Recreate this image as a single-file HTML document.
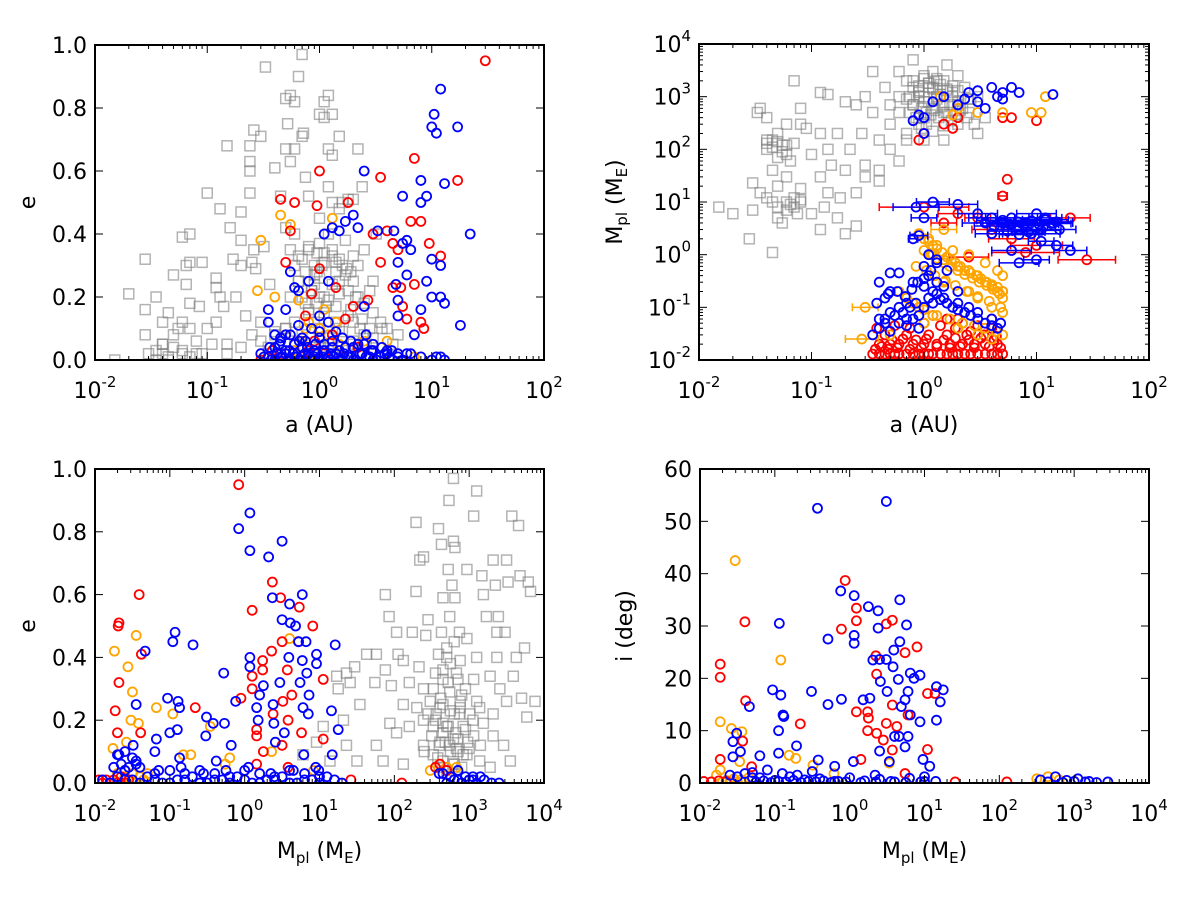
<!DOCTYPE html>
<html><head><meta charset="utf-8">
<style>
html,body{margin:0;padding:0;background:#fff;}
svg{display:block;font-family:"DejaVu Sans","Liberation Sans",sans-serif;}
</style></head>
<body>
<svg id="fig" width="1200" height="902" viewBox="0 0 1200 902" xmlns="http://www.w3.org/2000/svg"></svg>
<script>
// ---------------- DATA ----------------
// Top-left: semi-major axis a (AU) vs eccentricity e
const tlGrayA=[0.015,0.02,0.028,0.028,0.028,0.035,0.04,0.04,0.04,0.045,0.05,0.05,0.055,0.06,0.06,0.065,0.065,0.07,0.07,0.07,0.08,0.085,0.09,0.1,0.1,0.11,0.12,0.12,0.13,0.13,0.14,0.15,0.15,0.16,0.17,0.18,0.2,0.2,0.2,0.22,0.24,0.24,0.24,0.24,0.26,0.25,0.26,0.27,0.3,0.32,0.33,0.36,0.4,0.5,0.55,0.52,0.5,0.55,0.6,0.6,0.65,0.7,0.7,0.72,0.75,0.8,0.45,0.5,0.55,0.6,0.6,0.65,0.7,0.75,0.8,0.85,0.9,0.95,1.0,1.0,1.0,1.1,1.1,1.2,1.2,1.3,1.3,1.5,1.2,1.3,1.5,1.6,1.8,2.0,2.4,2.2,1.2,1.3,1.4,1.5,1.6,1.8,2.0,2.2,2.5,3,3.5,4,4.5,5,1,1.1,0.9,1.5,2,2.5,1.2,0.8,2.2,2.5,3,1.7,3.2,0.4,0.3,0.35,0.5,0.06,0.09,0.15,0.12,0.07,0.045,0.035,0.9,1.1,1.4,0.7,0.8,1.9,2.8,3.6,0.6,1.0,1.3];
const tlGrayE=[0.0,0.21,0.32,0.16,0.08,0.2,0.02,0.05,0.12,0.15,0.27,0.08,0.1,0.39,0.12,0.3,0.24,0.31,0.4,0.1,0.06,0.17,0.31,0.53,0.1,0.05,0.26,0.23,0.48,0.2,0.17,0.68,0.05,0.42,0.32,0.2,0.47,0.38,0.3,0.14,0.68,0.63,0.6,0.53,0.73,0.31,0.35,0.29,0.71,0.36,0.93,0.24,0.61,0.83,0.84,0.75,0.67,0.63,0.82,0.67,0.9,0.97,0.71,0.72,0.58,0.52,0.52,0.42,0.35,0.3,0.4,0.25,0.32,0.28,0.35,0.22,0.3,0.18,0.37,0.45,0.78,0.82,0.77,0.84,0.67,0.78,0.65,0.71,0.55,0.5,0.48,0.5,0.51,0.51,0.55,0.67,0.4,0.33,0.28,0.25,0.3,0.22,0.25,0.2,0.18,0.15,0.12,0.1,0.05,0.08,0.2,0.15,0.12,0.1,0.12,0.08,0.05,0.02,0.3,0.35,0.25,0.38,0.4,0.08,0.12,0.02,0.1,0.02,0.02,0.02,0.12,0.18,0.0,0.0,0.27,0.34,0.31,0.2,0.16,0.28,0.22,0.1,0.06,0.07,0.03];
const tlGrayDenseA=[0.5,0.6,0.7,0.8,0.9,1.0,1.1,1.2,1.4,1.6,1.8,2.0,2.3,2.6,3.0,0.55,0.65,0.75,0.85,0.95,1.05,1.15,1.3,1.5,1.7,1.9,2.1,2.4,2.8,0.6,0.7,0.8,0.9,1.0,1.1,1.25,1.4,1.6,1.8,2.0,2.2,0.65,0.8,0.95,1.1,1.3,1.5,1.75,2.0,0.9,1.0,1.2,1.4,0.3,0.35,0.4,0.45,0.2,0.25,0.03,0.035,0.04,0.045,0.05,0.06,0.07,0.08];
const tlGrayDenseE=[0.1,0.12,0.08,0.15,0.05,0.1,0.2,0.07,0.12,0.09,0.14,0.06,0.1,0.05,0.07,0.2,0.25,0.18,0.22,0.28,0.3,0.17,0.24,0.21,0.27,0.16,0.2,0.13,0.1,0.02,0.03,0.01,0.04,0.02,0.03,0.05,0.02,0.04,0.03,0.05,0.02,0.33,0.36,0.34,0.31,0.35,0.32,0.29,0.33,0.24,0.26,0.19,0.17,0.06,0.04,0.09,0.02,0.04,0.08,0.02,0.03,0.05,0.01,0.04,0.03,0.01,0.02];
const tlBlueA=[12,10.5,10,11,17,8,13,9,8,22,2.5,5.5,2,1.7,1.5,1.3,2.2,3.3,4.6,5.5,6.5,6,10,12,5,4.8,6,9,10,12,13,8,18,5,5,7,1.1,1.2,2.5,0.55,0.6,0.65,0.8,0.35,0.35,0.5,1.0,0.4,0.45,2.5,3,5,8,12,0.3,0.35,0.4,0.45,0.5,0.55,0.6,0.7,0.8,0.9,1.0,1.2,1.4,1.6,1.8,2,2.3,2.6,3,3.5,4,4.5,5,6,0.4,0.5,0.6,0.7,0.9,1.1,1.3,1.5,2,3,4,0.45,0.55,0.75,1.0,1.4,1.9,0.65,0.85,1.2];
const tlBlueE=[0.86,0.78,0.74,0.72,0.74,0.57,0.56,0.52,0.5,0.4,0.6,0.52,0.46,0.44,0.41,0.42,0.42,0.41,0.41,0.37,0.35,0.38,0.32,0.3,0.31,0.24,0.27,0.25,0.2,0.2,0.18,0.16,0.11,0.19,0.14,0.08,0.4,0.25,0.17,0.28,0.23,0.22,0.25,0.16,0.12,0.16,0.14,0.08,0.06,0.05,0.03,0.02,0.01,0.01,0.02,0.01,0.0,0.01,0.02,0.0,0.01,0.0,0.02,0.01,0.0,0.01,0.02,0.0,0.01,0.0,0.02,0.01,0.0,0.01,0.02,0.0,0.01,0.02,0.04,0.03,0.05,0.04,0.03,0.05,0.04,0.03,0.04,0.05,0.03,0.07,0.08,0.06,0.07,0.09,0.06,0.11,0.1,0.12];
const tlBlueDenseA=[0.32,0.37,0.42,0.47,0.52,0.58,0.63,0.68,0.74,0.82,0.88,0.96,1.05,1.15,1.25,1.35,1.5,1.65,1.9,2.1,2.4,2.8,3.2,3.8,4.2,5.5,6.5,0.36,0.44,0.54,0.66,0.78,0.92,1.1,1.3,1.7,2.2,2.9,3.6,4.4,0.5,0.7,1.0,1.6,2.6,10,11,13];
const tlBlueDenseE=[0.01,0.0,0.02,0.01,0.0,0.02,0.01,0.0,0.02,0.01,0.0,0.02,0.01,0.0,0.02,0.01,0.0,0.02,0.01,0.0,0.02,0.01,0.0,0.02,0.01,0.0,0.02,0.04,0.05,0.03,0.06,0.04,0.05,0.03,0.06,0.04,0.05,0.03,0.04,0.03,0.08,0.07,0.09,0.07,0.08,0.0,0.01,0.0];
const tlRedA=[30,1,1.8,3.5,7,17,0.45,0.6,0.95,0.55,0.5,1.0,0.85,1.4,3,4,4.5,3.5,5,6.5,8,9.5,4.5,5.3,5.5,6,8,8.5,2,1.7,0.75,2.7,12,7,0.38,0.6,0.9,1.3,2.2,0.5,0.7,0.3,0.42,0.8,1.1,1.6];
const tlRedE=[0.95,0.6,0.5,0.58,0.64,0.57,0.51,0.5,0.49,0.41,0.31,0.29,0.21,0.23,0.4,0.41,0.37,0.31,0.35,0.44,0.44,0.37,0.23,0.23,0.17,0.13,0.12,0.1,0.17,0.13,0.14,0.19,0.33,0.24,0.03,0.05,0.06,0.08,0.04,0.02,0.01,0.0,0.0,0.03,0.02,0.01];
const tlOrangeA=[0.3,0.28,0.45,0.55,1.3,1.0,0.7,2,5,7,0.4,0.5,0.8,1.2,1.5,3,4,0.6,0.9,0.65,1.1,1.4,2.5,0.75];
const tlOrangeE=[0.38,0.22,0.46,0.43,0.45,0.1,0.06,0.04,0.02,0.01,0.2,0.08,0.12,0.08,0.05,0.03,0.06,0.03,0.02,0.19,0.16,0.12,0.06,0.1];

// Top-right: a (AU) vs planet mass (Earth masses), with horizontal error factor
const trGrayA=[0.015,0.02,0.028,0.03,0.03,0.033,0.035,0.035,0.04,0.04,0.04,0.04,0.045,0.045,0.05,0.05,0.05,0.05,0.055,0.055,0.06,0.06,0.06,0.06,0.07,0.07,0.07,0.08,0.08,0.08,0.09,0.1,0.1,0.12,0.12,0.12,0.12,0.14,0.14,0.14,0.15,0.17,0.18,0.2,0.2,0.2,0.22,0.25,0.25,0.28,0.3,0.3,0.35,0.35,0.4,0.4,0.45,0.5,0.5,0.6,0.6,0.6,0.7,0.7,0.8,0.8,0.8,0.9,0.9,1,1,1,1.1,1.2,1.2,1.3,1.5,1.5,1.6,1.8,2,2,2,2.3,2.5,3,3,0.5,0.6,0.7,1,1.5,0.4,0.25,0.3,0.13,0.17,0.045,0.065,0.08,1.1,1.3,0.9,2.6,3.5,0.75,1.7];
const trGrayM=[8,6,2,7,23,500,600,15,400,130,100,12,1.1,150,200,70,20,5,120,4,300,80,10,30,2000,130,8,600,300,10,250,80,6,1200,200,30,3,1100,100,15,50,200,12,800,40,2.5,100,700,3.5,200,1000,30,3000,500,150,25,1500,700,300,3000,1000,500,2000,200,5000,1500,700,1000,300,2500,800,400,1500,3000,600,1000,2000,500,4000,1200,2500,700,300,1500,500,1000,200,100,60,150,150,150,40,15,50,8,5,40,60,18,1800,2200,1300,900,400,1000,700];
const trGrayDenseA=[0.7,0.8,0.9,1.0,1.1,1.2,1.3,1.4,1.5,1.6,1.8,2.0,2.2,2.5,0.75,0.85,0.95,1.05,1.15,1.25,1.35,1.45,1.6,1.75,1.9,2.1,2.4,2.8,0.8,0.9,1.0,1.1,1.2,1.3,1.4,1.6,1.8,2.0,0.95,1.05,1.2,1.5,0.04,0.045,0.05,0.055,0.06,0.05,0.045,0.06,0.065,0.07,0.075,0.08];
const trGrayDenseM=[900,700,1200,1000,800,1400,900,1100,700,1300,1000,800,600,900,500,400,600,500,450,550,400,650,500,350,450,550,400,300,2000,1600,2200,1800,1500,2000,1700,1400,1600,1300,250,300,220,280,150,110,140,90,120,8,10,7,9,12,6,11];
const trBlueA=[1,1.2,1.5,2,2.3,2.5,3,3,4,5,5,6,7,14,0.8,0.9,3.5,4.5,1,0.85,1.2,2,1,0.9,0.8,3,4,5,6,8,10,12,14,16,11,15,20,7,9,6,7,10,0.5,0.6,0.5,0.45,0.8,1,1.2,1.5,2,2.5,3,4,4.8,0.45,0.5,0.6,0.7,0.4,1.1,1.3,1.5,2,0.7,0.9,0.35,0.4,1,1.1,1.3,1.6];
const trBlueM=[400,800,1000,700,900,1200,1300,800,1500,1200,900,1500,1200,1100,350,450,600,1000,200,8,10,9,5,2.3,2,6,5,4,5,4,6,5,4,3,1.8,1.5,1.2,3,2.5,1.2,0.7,0.8,0.45,0.45,0.2,0.15,0.3,0.25,0.2,0.15,0.12,0.1,0.08,0.06,0.05,0.05,0.08,0.1,0.12,0.3,0.4,0.3,0.25,0.2,0.06,0.04,0.03,0.06,0.6,1,0.8,0.5];
const trBlueErr=[1,1,1,1,1,1,1,1,1,1,1,1,1,1,1,1,1,1,1,1.6,1.4,1.5,1.3,1.2,1.1,1.5,1.6,1.5,1.7,1.8,1.5,1.4,1.5,1.4,1.3,1.4,1.4,1.6,1.8,1.5,1.5,1.3,1,1,1,1,1,1,1,1,1,1,1,1,1,1,1,1,1,1,1,1,1,1,1,1,1,1,1,1,1,1];
const trBlueDenseA=[3.5,4.2,5,5.8,6.8,7.8,9,10.5,12,13.5,15,4,5.5,7,8.5,11,0.4,0.45,0.5,0.55,0.6,0.65,0.7,0.75,0.8,0.85,0.9,1.0,1.1,1.2,1.3,1.4,1.6,1.8,2.0,2.3,2.6,3.0,3.5,4.0,4.5,0.38,0.48,0.58,0.68,0.78,0.88,1.0,1.15,1.3];
const trBlueDenseM=[4,3.5,4.5,3.8,4.2,3.6,4.4,3.8,4.6,3.9,4.2,2.5,2.8,2.4,2.7,2.9,0.04,0.06,0.035,0.07,0.05,0.08,0.045,0.1,0.06,0.12,0.07,0.1,0.15,0.12,0.18,0.14,0.12,0.1,0.09,0.08,0.07,0.06,0.05,0.045,0.04,0.12,0.18,0.2,0.16,0.22,0.3,0.35,0.5,0.7];
const trBlueDenseErr=[1.6,1.5,1.7,1.6,1.5,1.6,1.7,1.5,1.6,1.5,1.4,1.4,1.5,1.5,1.4,1.5,1,1,1,1,1,1,1,1,1,1,1,1,1,1,1,1,1,1,1,1,1,1,1,1,1,1,1,1,1,1,1,1,1,1];
const trRedA=[0.9,1,1.5,1.8,5,6,10,2,5.5,5,1,2,3,20,1.5,4,6,10,8,28,2.5,1,2,4,5,0.35,0.4,0.45,0.5,0.55,0.6,0.7,0.8,0.9,1,1.1,1.2,1.4,1.6,1.8,2,2.3,2.6,3,3.5,4,4.5,5,0.4,0.5,0.6,0.8,1,1.3,1.7,2.2,2.8,3.5,4.5,0.45,0.7,1.1,1.6,2.4];
const trRedM=[150,200,300,250,400,400,350,400,27,13,8,6,5,5,4,3,2,1.5,1.1,0.8,0.9,0.1,0.06,0.04,0.2,0.013,0.013,0.013,0.013,0.013,0.013,0.013,0.013,0.013,0.013,0.013,0.013,0.013,0.013,0.013,0.013,0.013,0.013,0.013,0.013,0.013,0.013,0.013,0.02,0.02,0.02,0.02,0.02,0.02,0.02,0.02,0.02,0.02,0.02,0.03,0.03,0.03,0.03,0.03];
const trRedErr=[1,1,1,1,1,1,1,1,1,1.1,2.5,1.5,1.3,1.5,1.3,1.5,1.6,1.7,2,1.8,1.5,1,1,1,1,1,1,1,1,1,1,1,1,1,1,1,1,1,1,1,1,1,1,1,1,1,1,1,1,1,1,1,1,1,1,1,1,1,1,1,1,1,1,1];
const trRedDenseA=[0.37,0.42,0.48,0.52,0.58,0.65,0.75,0.85,0.95,1.05,1.3,1.5,1.7,1.9,2.1,2.5,2.8,3.2,3.8,4.2,4.8,0.38,0.55,0.75,1.0,1.4,1.9,2.6,3.4,4.4,1.2,1.6,2.2,3,4];
const trRedDenseM=[0.016,0.018,0.016,0.024,0.017,0.025,0.016,0.024,0.017,0.025,0.018,0.024,0.017,0.026,0.018,0.024,0.017,0.026,0.018,0.024,0.017,0.04,0.045,0.04,0.05,0.045,0.04,0.035,0.03,0.028,0.07,0.06,0.05,0.045,0.06];
const trOrangeA=[1.4,2,3,5,9,11,12,1.8,1.2,1.5,2,2.5,3,3.5,4,4.5,5,1.3,1.8,2.5,3.5,4.5,5,1.1,1.5,2.5,3,4,5,1.5,2,0.3,0.28,0.5,1,2,3,4,5,0.9,1.2];
const trOrangeM=[1000,600,500,500,500,500,1000,450,1,0.8,0.6,0.5,0.4,0.3,0.25,0.2,0.15,1.5,1.2,1,0.7,0.5,0.4,2,3,0.2,0.15,0.1,0.08,0.3,0.2,0.1,0.025,0.03,0.05,0.04,0.03,0.025,0.03,0.1,0.07];
const trOrangeErr=[1,1,1,1,1,1,1,1,1,1,1,1,1,1,1,1,1,1,1,1,1,1,1,1,1.3,1,1,1,1,1,1,1.3,1.4,1,1,1,1,1,1,1,1];
const trOrangeDenseA=[0.9,1.0,1.1,1.2,1.3,1.45,1.6,1.75,1.9,2.1,2.3,2.6,2.9,3.2,3.6,4.0,4.5,5.0,1.0,1.15,1.3,1.5,1.7,2.0,2.3,2.7,3.1,3.6,4.1,4.7,0.85,1.05,1.25,1.55,1.9,2.4,3.0,3.8,4.8,0.6,0.7,0.8,1.0,1.3,1.7,2.2,2.8,3.5,4.4];
const trOrangeDenseM=[2.5,2,1.8,1.5,1.3,1.1,0.9,0.8,0.7,0.6,0.5,0.45,0.4,0.35,0.3,0.27,0.24,0.2,1.2,1,0.85,0.7,0.6,0.5,0.42,0.36,0.3,0.26,0.22,0.18,0.6,0.5,0.4,0.32,0.26,0.2,0.16,0.13,0.1,0.2,0.15,0.12,0.09,0.07,0.06,0.05,0.045,0.04,0.035];

// Bottom-left: log10 planet mass vs eccentricity
const blGrayLogM=[2.79,3.1,2.73,3.06,3.57,3.66,2.29,2.59,2.79,2.63,2.81,2.39,2.34,2.72,2.97,3.17,3.32,3.5,3.68,3.79,3.82,3.52,3.35,2.77,2.29,1.88,2.65,2.81,3.19,1.93,2.45,2.74,3.23,3.39,2.03,2.24,2.42,2.63,2.87,3.37,3.48,2.97,1.63,1.76,2.05,2.12,2.33,2.59,2.7,2.88,3.1,3.37,3.63,3.74,1.47,1.36,1.23,1.25,1.41,1.54,1.74,1.88,1.96,2.2,2.39,2.65,2.83,3.06,3.28,3.59,3.41,3.7,3.88,3.77,3.5,2.12,2.3,2.48,2.61,2.74,2.88,3.01,3.14,3.32,1.94,2.03,1.76,1.85,2.2,2.39,2.52,2.65,2.79,2.92,3.06,3.19,3.32,3.46,3.55,2.39,2.52,2.65,2.83,2.97,3.14,2.61,2.74,2.12,3.28,1.32,1.05,0.96,0.78,1.14,1.36,1.5,2.72,2.87,2.56];
const blGrayE=[0.97,0.93,0.9,0.85,0.85,0.82,0.83,0.81,0.77,0.76,0.75,0.72,0.71,0.68,0.68,0.66,0.71,0.71,0.66,0.64,0.61,0.64,0.63,0.63,0.61,0.6,0.59,0.59,0.6,0.53,0.52,0.53,0.53,0.53,0.48,0.48,0.47,0.48,0.48,0.48,0.48,0.46,0.41,0.41,0.41,0.39,0.37,0.41,0.4,0.39,0.4,0.4,0.4,0.43,0.37,0.35,0.34,0.3,0.32,0.25,0.32,0.36,0.31,0.32,0.3,0.33,0.35,0.33,0.34,0.34,0.3,0.27,0.26,0.21,0.26,0.25,0.24,0.26,0.24,0.29,0.26,0.22,0.24,0.22,0.19,0.16,0.12,0.07,0.18,0.2,0.18,0.16,0.14,0.18,0.15,0.19,0.15,0.12,0.07,0.12,0.09,0.07,0.11,0.09,0.07,0.13,0.12,0.06,0.05,0.2,0.18,0.13,0.09,0.07,0.12,0.07,0.18,0.22,0.22];
const blGrayDenseLogM=[2.5,2.55,2.6,2.65,2.7,2.75,2.8,2.85,2.9,2.95,3.0,3.05,2.52,2.58,2.62,2.68,2.72,2.78,2.82,2.88,2.92,2.98,2.6,2.7,2.8,2.9,2.65,2.75,2.85,2.4,2.45,3.1,3.15,2.55,2.65,2.75,2.85,2.95,2.7,2.8];
const blGrayDenseE=[0.15,0.2,0.12,0.25,0.18,0.1,0.22,0.14,0.28,0.17,0.11,0.2,0.3,0.08,0.27,0.13,0.32,0.06,0.16,0.24,0.09,0.13,0.05,0.04,0.06,0.05,0.19,0.23,0.1,0.1,0.22,0.26,0.12,0.35,0.36,0.38,0.33,0.3,0.43,0.45];
const blBlueLogM=[0.07,-0.08,0.07,0.5,0.32,0.37,0.6,0.77,0.5,0.61,0.68,0.72,0.82,1.21,-0.93,-0.96,-0.69,-1.33,-0.28,0.07,0.07,0.59,0.77,0.96,0.96,0.83,0.25,0.47,0.74,0.2,0.86,-1.03,-0.89,-0.87,-1.45,-0.12,0.16,0.38,0.78,0.85,1.16,-0.51,-0.42,-0.27,0.18,0.39,0.53,1.25,-1.0,-0.9,-0.52,-0.18,0.41,0.79,1.17,-1.18,-1.2,-1.49,-1.68,-0.87,-0.38,0.99,-1.9,-1.7,-1.5,-1.3,-1.1,-0.9,-0.7,-0.5,-0.3,-0.1,0.1,0.3,0.5,0.7,0.9,1.1,1.3,-1.6,-1.4,-1.2,-1.0,-0.8,-0.6,-0.4,-0.2,0.0,0.2,0.4,0.6,0.8,1.0,2.6,2.75,2.85,2.95,3.05,3.15,3.4,-1.65,-1.55,-1.45,-1.6];
const blBlueE=[0.86,0.81,0.74,0.77,0.72,0.59,0.57,0.6,0.52,0.51,0.5,0.45,0.45,0.44,0.48,0.45,0.44,0.42,0.35,0.4,0.37,0.4,0.39,0.41,0.38,0.35,0.31,0.32,0.32,0.28,0.28,0.27,0.26,0.24,0.25,0.26,0.24,0.25,0.24,0.22,0.23,0.21,0.19,0.19,0.2,0.19,0.16,0.17,0.16,0.17,0.15,0.12,0.13,0.09,0.09,0.14,0.1,0.12,0.09,0.08,0.07,0.04,0.01,0.02,0.01,0.02,0.0,0.01,0.02,0.0,0.01,0.02,0.0,0.01,0.02,0.0,0.01,0.02,0.0,0.04,0.05,0.03,0.04,0.03,0.04,0.03,0.02,0.04,0.03,0.02,0.04,0.03,0.02,0.03,0.02,0.01,0.02,0.01,0.02,0.0,0.06,0.05,0.07,0.04];
const blBlueDenseLogM=[-1.8,-1.6,-1.4,-1.2,-1.0,-0.8,-0.6,-0.4,-0.2,0.0,0.2,0.4,0.6,0.8,1.0,1.2,-1.75,-1.45,-1.15,-0.85,-0.55,-0.25,0.05,0.35,0.65,0.95,2.7,2.8,2.9,3.0,3.1,3.2,3.3,2.65,2.85,3.05,-1.7,-1.6,-1.5];
const blBlueDenseE=[0.0,0.01,0.0,0.01,0.0,0.01,0.0,0.01,0.0,0.01,0.0,0.01,0.0,0.01,0.0,0.01,0.05,0.06,0.04,0.05,0.03,0.04,0.05,0.03,0.04,0.05,0.0,0.01,0.0,0.01,0.0,0.01,0.0,0.03,0.04,0.02,0.09,0.1,0.08];
const blRedLogM=[-0.08,0.37,-1.41,-1.68,-1.69,-1.38,0.1,0.48,0.73,0.91,0.5,0.72,0.36,0.24,0.24,0.57,0.1,0.1,1.05,-1.68,-0.05,-0.66,0.51,0.63,0.38,0.58,0.16,0.16,0.76,1.05,-1.73,-1.7,-1.39,0.25,0.16,0.5,0.58,2.61,1.42,2.1,-1.95,-1.85,-1.75,-1.65,-1.55,2.55,2.7,-1.9,-1.8,-1.7,-1.6];
const blRedE=[0.95,0.64,0.6,0.51,0.5,0.41,0.55,0.59,0.56,0.5,0.45,0.45,0.42,0.39,0.36,0.36,0.34,0.3,0.33,0.32,0.27,0.24,0.26,0.28,0.22,0.2,0.17,0.15,0.16,0.14,0.23,0.16,0.16,0.1,0.06,0.12,0.05,0.06,0.01,0.0,0.01,0.01,0.01,0.02,0.01,0.05,0.04,0.0,0.0,0.0,0.0];
const blOrangeLogM=[-1.45,-1.74,-1.56,-1.5,-1.18,-1.52,-1.42,-1.58,-1.76,-0.96,-0.82,-0.72,-0.2,-0.26,-0.46,0.6,0.36,2.48,2.83,0.92,-1.7,-1.6,-1.5,-1.4,-1.3,2.6,2.7,-1.65,-1.55,-1.45,-1.35];
const blOrangeE=[0.47,0.42,0.37,0.29,0.24,0.2,0.19,0.13,0.11,0.22,0.09,0.09,0.08,0.06,0.18,0.46,0.1,0.04,0.05,0.04,0.03,0.02,0.03,0.02,0.03,0.06,0.05,0.0,0.01,0.0,0.01];

// Bottom-right: log10 planet mass vs inclination (deg)
const brBlueLogM=[-0.43,0.49,-0.12,0.06,0.25,0.38,0.67,0.38,0.76,-0.94,-0.29,0.06,0.06,0.67,0.59,0.31,0.4,0.49,0.58,0.41,0.5,0.65,0.81,0.86,0.94,1.16,1.25,1.21,1.16,0.94,0.74,0.78,0.69,0.81,0.66,0.78,0.74,0.6,0.4,0.53,0.98,1.07,-1.03,-0.92,-0.51,-0.29,-0.11,0.18,0.27,-1.34,-0.88,-0.89,-0.95,-1.51,-1.56,-1.46,-1.56,-0.71,-1.2,-0.95,-0.42,-0.2,0.05,0.34,1.0,-1.2,-1.0,-0.8,-0.6,-0.4,-0.2,0.0,0.2,0.4,0.6,0.8,1.0,-1.3,-1.1,-0.9,-0.7,-0.5,2.55,2.75,2.9,3.05,3.2,3.45];
const brBlueI=[52.5,53.8,36.7,35.8,33.7,32.9,35,29.6,30.2,30.5,27.5,28.2,26.7,27,25.4,23.5,23.6,23.6,22.2,19.4,17.5,19.8,21,20,20.6,18.4,17.8,15.5,12,11.7,15.9,17.5,14.6,13,8.9,8.9,6.9,8.9,6.1,4.1,4.5,3.2,17.8,16.8,17.5,15,16,15.9,16.2,14.6,12.7,13,10,9.5,7.9,6,5,7.1,5.2,5.7,4.4,3.2,4.1,1.5,1.2,1,0.5,1.2,0.6,0.8,0.3,1,0.4,0.7,0.2,0.9,0.3,2,2.5,1.8,1.5,2.2,0.6,1.2,0.5,0.8,0.3,0.2];
const brBlueDenseLogM=[-1.25,-1.15,-1.05,-0.95,-0.85,-0.75,-0.65,-0.55,-0.45,-0.35,-0.25,-0.15,-0.05,0.15,0.35,0.55,0.75,0.95,1.15,-1.6,-1.5,-1.4,-1.3,2.65,2.85,3.0,3.15,3.3];
const brBlueDenseI=[0.2,0.4,0.1,0.3,0.2,0.5,0.1,0.3,0.2,0.4,0.1,0.3,0.2,0.1,0.2,0.3,0.1,0.2,0.3,1.5,1.2,1.8,1.0,0.2,0.1,0.3,0.2,0.1];
const brRedLogM=[-0.06,0.09,0.09,-0.11,0.49,0.57,0.9,0.35,0.36,0.74,-1.73,-1.73,-1.4,-1.39,-0.66,0.09,0.24,0.25,0.24,0.36,0.49,0.57,0.63,0.45,0.57,1.04,1.14,0.78,1.04,-1.73,-1.43,0.15,0.74,-1.31,1.41,2.1,-1.95,-1.85,-1.75,-1.65];
const brRedI=[38.7,33.4,31,29.4,30.4,31.1,26,24.3,20.8,24.9,22.7,20.2,30.8,15.7,11.3,13.6,13.6,12.4,10,9.5,11.4,14.9,10.8,8.2,6.3,17.1,17.1,13,6.4,4.5,8,4.5,1.8,3.1,0.2,0.2,0.3,0.2,0.4,0.3];
const brOrangeLogM=[-1.53,-0.92,-1.73,-1.58,-1.44,-0.81,-0.72,-0.49,-0.21,0.53,-1.73,-1.47,-1.78,-1.65,-1.55,-1.45,-1.35,2.5,2.65,2.8,-1.7,-1.6,-1.5,-1.4];
const brOrangeI=[42.5,23.5,11.7,10.4,9.8,5.3,4.7,3.4,1.8,3.8,2.5,4.1,1.5,0.5,0.8,0.6,1,0.8,1.2,0.6,0.2,0.3,0.2,0.3];

// ---------------- RENDER ----------------
const NS='http://www.w3.org/2000/svg';
const svg=document.getElementById('fig');
function mk(tag,attrs,parent){const e=document.createElementNS(NS,tag);for(const k in attrs)e.setAttribute(k,attrs[k]);(parent||svg).appendChild(e);return e;}
const C={gray:'#808080',blue:'#0000ff',red:'#ff0000',orange:'#ffa500'};

function panel(name,f){
  const g=mk('g',{});
  
  
  f.g=g;
  f.xs=v=>f.x0+(v-f.xlo)/(f.xhi-f.xlo)*(f.x1-f.x0);
  f.ys=v=>f.y1-(v-f.ylo)/(f.yhi-f.ylo)*(f.y1-f.y0);
  const clip=mk('clipPath',{id:'clip-'+name},g);
  mk('rect',{x:f.x0,y:f.y0-2,width:f.x1-f.x0,height:f.y1-f.y0+2},clip);
  f.plot=mk('g',{'clip-path':'url(#clip-'+name+')'},g);
  return f;
}
function axisFrame(f,xlab,ylab,ylabX,xlabY){
  const g=f.g;
  for(let d=f.xlo;d<=f.xhi;d++){
    const x=f.xs(d);
    mk('line',{x1:x,x2:x,y1:f.y1,y2:f.y1-8,stroke:'#000','stroke-width':1},g);
    mk('line',{x1:x,x2:x,y1:f.y0,y2:f.y0+8,stroke:'#000','stroke-width':1},g);
    const t=mk('text',{x:x,y:f.y1+38,'text-anchor':'middle','font-size':22,fill:'#000'},g);
    
    
    t.appendChild(document.createTextNode('10'));
    const s=mk('tspan',{'font-size':15,dy:-11},t);s.textContent=String(d);
    if(d<f.xhi){for(let m=2;m<=9;m++){const xm=f.xs(d+Math.log10(m));
      mk('line',{x1:xm,x2:xm,y1:f.y1,y2:f.y1-4,stroke:'#000','stroke-width':1},g);
      mk('line',{x1:xm,x2:xm,y1:f.y0,y2:f.y0+4,stroke:'#000','stroke-width':1},g);}}
  }
  for(const yt of f.yticks){
    const y=f.ys(yt);
    mk('line',{x1:f.x0,x2:f.x0+8,y1:y,y2:y,stroke:'#000','stroke-width':1},g);
    mk('line',{x1:f.x1,x2:f.x1-8,y1:y,y2:y,stroke:'#000','stroke-width':1},g);
    const t=mk('text',{x:f.x0-8,y:y+8,'text-anchor':'end','font-size':22,fill:'#000'},g);
    
    
    if(f.ylog){t.appendChild(document.createTextNode('10'));const s=mk('tspan',{'font-size':15,dy:-11},t);s.textContent=String(yt);}
    else t.textContent=f.yfmt(yt);
    if(f.ylog&&yt<f.yhi){for(let m=2;m<=9;m++){const ym=f.ys(yt+Math.log10(m));
      mk('line',{x1:f.x0,x2:f.x0+4,y1:ym,y2:ym,stroke:'#000','stroke-width':1},g);
      mk('line',{x1:f.x1,x2:f.x1-4,y1:ym,y2:ym,stroke:'#000','stroke-width':1},g);}}
  }
  mk('rect',{x:f.x0,y:f.y0,width:f.x1-f.x0,height:f.y1-f.y0,fill:'none',stroke:'#000','stroke-width':2},g);
  const xl=mk('text',{x:(f.x0+f.x1)/2,y:xlabY,'text-anchor':'middle','font-size':22,fill:'#000'},g);
  
  
  xl.innerHTML=xlab;
  const yc=(f.y0+f.y1)/2;
  const yl=mk('text',{x:ylabX,y:yc,'text-anchor':'middle','font-size':22,fill:'#000',transform:'rotate(-90 '+ylabX+' '+yc+')'},g);
  
  
  yl.innerHTML=ylab;
}
function squares(f,xs,ys,logx,logy){
  for(let i=0;i<xs.length;i++){
    const x=f.xs(logx?Math.log10(xs[i]):xs[i]);const y=f.ys(logy?Math.log10(ys[i]):ys[i]);
    const r=mk('rect',{x:x-5,y:y-5,width:10,height:10,fill:'none',stroke:C.gray,'stroke-opacity':0.6,'stroke-width':1.5},f.plot);
    
    
  }
}
function circles(f,xs,ys,col,logx,logy,err){
  for(let i=0;i<xs.length;i++){
    const lx=logx?Math.log10(xs[i]):xs[i];
    const x=f.xs(lx);const y=f.ys(logy?Math.log10(ys[i]):ys[i]);
    if(err&&err[i]>1){
      const d=Math.log10(err[i]);const xa=f.xs(lx-d),xb=f.xs(lx+d);
      const el=mk('path',{d:`M${xa},${y}H${xb}M${xa},${y-4}V${y+4}M${xb},${y-4}V${y+4}`,stroke:col,'stroke-width':1.5,fill:'none'},f.plot);
      
      
    }
    const c=mk('circle',{cx:x,cy:y,r:4.5,fill:'none',stroke:col,'stroke-width':1.8},f.plot);
    
    
  }
}

const tl=panel('panel-a-vs-e',{x0:95,x1:544,y0:45,y1:360,xlo:-2,xhi:2,ylo:0,yhi:1,yticks:[0,0.2,0.4,0.6,0.8,1.0],yfmt:v=>v.toFixed(1)});
const tr=panel('panel-a-vs-mass',{x0:699,x1:1149,y0:44,y1:360,xlo:-2,xhi:2,ylo:-2,yhi:4,ylog:true,yticks:[-2,-1,0,1,2,3,4]});
const bl=panel('panel-mass-vs-e',{x0:95,x1:544,y0:469,y1:783,xlo:-2,xhi:4,ylo:0,yhi:1,yticks:[0,0.2,0.4,0.6,0.8,1.0],yfmt:v=>v.toFixed(1)});
const br=panel('panel-mass-vs-incl',{x0:700,x1:1149,y0:469,y1:783,xlo:-2,xhi:4,ylo:0,yhi:60,yticks:[0,10,20,30,40,50,60],yfmt:v=>String(v)});

squares(tl,tlGrayA,tlGrayE,true,false);
squares(tl,tlGrayDenseA,tlGrayDenseE,true,false);
circles(tl,tlOrangeA,tlOrangeE,C.orange,true,false);
circles(tl,tlRedA,tlRedE,C.red,true,false);
circles(tl,tlBlueA,tlBlueE,C.blue,true,false);
circles(tl,tlBlueDenseA,tlBlueDenseE,C.blue,true,false);

squares(tr,trGrayA,trGrayM,true,true);
squares(tr,trGrayDenseA,trGrayDenseM,true,true);
circles(tr,trRedA,trRedM,C.red,true,true,trRedErr);
circles(tr,trRedDenseA,trRedDenseM,C.red,true,true);
circles(tr,trOrangeA,trOrangeM,C.orange,true,true,trOrangeErr);
circles(tr,trOrangeDenseA,trOrangeDenseM,C.orange,true,true);
circles(tr,trBlueA,trBlueM,C.blue,true,true,trBlueErr);
circles(tr,trBlueDenseA,trBlueDenseM,C.blue,true,true,trBlueDenseErr);

squares(bl,blGrayLogM,blGrayE,false,false);
squares(bl,blGrayDenseLogM,blGrayDenseE,false,false);
circles(bl,blOrangeLogM,blOrangeE,C.orange,false,false);
circles(bl,blRedLogM,blRedE,C.red,false,false);
circles(bl,blBlueLogM,blBlueE,C.blue,false,false);
circles(bl,blBlueDenseLogM,blBlueDenseE,C.blue,false,false);

circles(br,brOrangeLogM,brOrangeI,C.orange,false,false);
circles(br,brRedLogM,brRedI,C.red,false,false);
circles(br,brBlueLogM,brBlueI,C.blue,false,false);
circles(br,brBlueDenseLogM,brBlueDenseI,C.blue,false,false);

const mpl='M<tspan font-size="15" dy="5">pl</tspan><tspan dy="-5"> (M</tspan><tspan font-size="15" dy="5">E</tspan><tspan dy="-5">)</tspan>';
axisFrame(tl,'a (AU)','e',35,432);
axisFrame(tr,'a (AU)',mpl,622,432);
axisFrame(bl,mpl,'e',35,858);
axisFrame(br,mpl,'i (deg)',632,858);
</script>
</body></html>
